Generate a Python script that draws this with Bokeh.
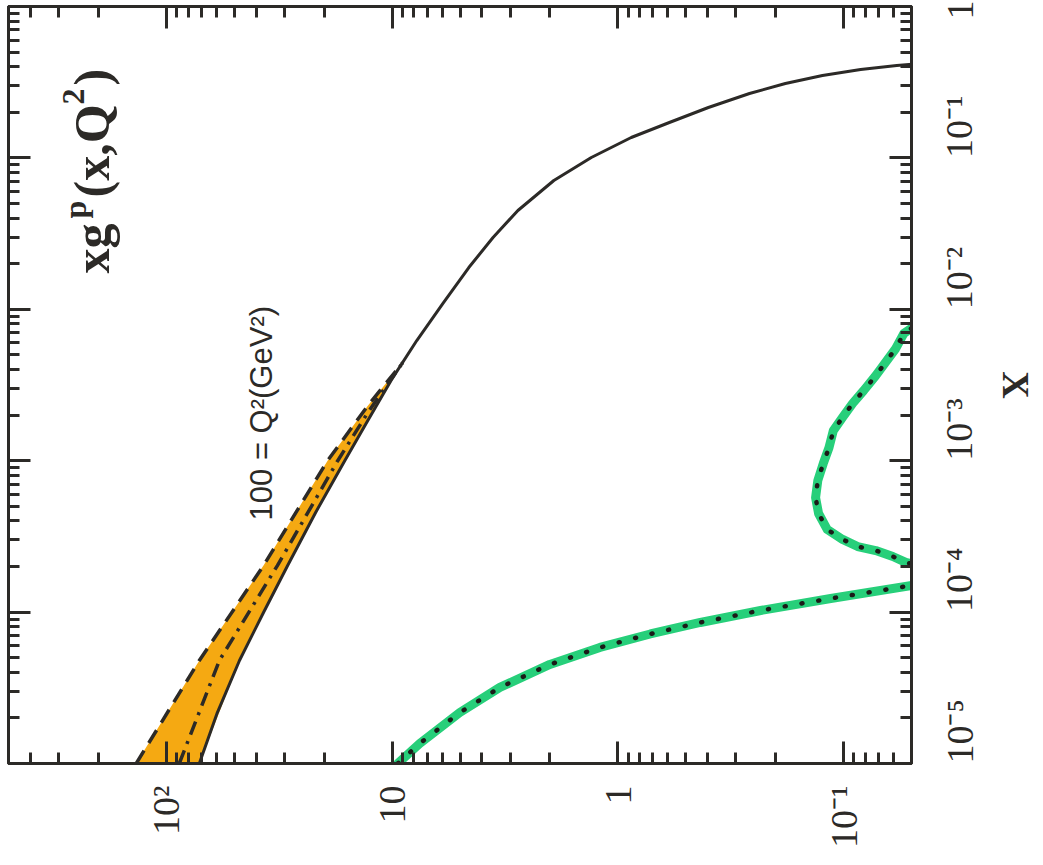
import math
from bokeh.plotting import figure
from bokeh.models import Range1d, LogAxis, FixedTicker, Label, CustomJSTickFormatter
from bokeh.embed import file_html
from bokeh.resources import INLINE

# ---------------- data ----------------
# central gluon curve xg(x, Q^2=100 GeV^2); its low-x part is the lower band edge
gluon_x = [1e-5, 2.17e-5, 4.79e-5, 9.94e-5, 2.03e-4, 4.55e-4, 1.0e-3, 1.84e-3,
           3.39e-3, 6.22e-3, 0.01092, 0.01888, 0.0298, 0.04494, 0.0709, 0.1006,
           0.1364, 0.1713, 0.2152, 0.2663, 0.3100, 0.3501, 0.3836, 0.4077, 0.4267]
gluon_xg = [71.4, 59.4, 47.4, 37.1, 29.0, 21.8, 16.2, 12.8,
            10.1, 7.77, 5.96, 4.57, 3.57, 2.77, 1.92, 1.31,
            0.872, 0.591, 0.397, 0.261, 0.181, 0.124, 0.0840, 0.0581, 0.0390]

# uncertainty band: dashed upper edge, solid lower edge
band_x = [1e-5, 4.79e-5, 2.03e-4, 1.0e-3, 2.31e-3, 4.45e-3]
band_hi = [135.9, 71.4, 37.1, 19.3, 12.8, 8.96]
band_lo = [71.4, 47.4, 29.0, 16.2, 11.7, 8.96]

# dash-dot curve inside the band
mid_x = [1e-5, 4.79e-5, 2.03e-4, 1.0e-3, 2.08e-3, 4.45e-3]
mid_xg = [87.6, 58.2, 32.2, 17.4, 12.8, 8.96]

# green dotted curves
green1_x = [1e-5, 1.356e-5, 2.17e-5, 3.18e-5, 4.51e-5, 5.84e-5, 7.17e-5,
            8.54e-5, 1.025e-4, 1.23e-4, 1.50e-4, 1.60e-4]
green1_xg = [9.44, 7.54, 5.01, 3.33, 2.00, 1.20, 0.718,
             0.431, 0.233, 0.114, 0.0499, 0.0371]

green2_x = [8.69e-3, 6.92e-3, 5.51e-3, 3.65e-3, 2.91e-3, 2.39e-3, 1.93e-3,
            1.58e-3, 1.22e-3, 9.58e-4, 7.40e-4, 5.71e-4, 4.48e-4, 3.51e-4,
            3.02e-4, 2.71e-4, 2.55e-4, 2.33e-4, 2.13e-4, 1.94e-4]
green2_xg = [0.0432, 0.0541, 0.0587, 0.0720, 0.0814, 0.0911, 0.101,
             0.111, 0.116, 0.123, 0.130, 0.133, 0.129, 0.118,
             0.101, 0.0866, 0.0720, 0.0605, 0.0530, 0.0411]

# ticks
xg_ticks = [100, 10, 1, 0.1]
xg_tick_labels = ["10²", "10", "1", "10⁻¹"]
x_ticks = [1e-5, 1e-4, 1e-3, 1e-2, 1e-1, 1]
x_tick_labels = ["10⁻⁵", "10⁻⁴", "10⁻³", "10⁻²", "10⁻¹", "1"]

q2_text = "100 = Q²(GeV²)"
x_label = "X"

# ---------------- styling ----------------
INK = "#2c2a27"
GREEN = "#27cf7a"
ORANGE = "#f5a912"
SERIF = "Liberation Serif"


def minors(lo, hi, e0, e1):
    return [m * 10.0 ** e for e in range(e0, e1) for m in range(2, 10)
            if lo <= m * 10.0 ** e <= hi]


LOOKUP = """
for (let i = 0; i < t.length; i++) {
  if (Math.abs(Math.log10(tick) - Math.log10(t[i])) < 1e-6) { return l[i]; }
}
return '';
"""


def fmt(ticks, labels):
    return CustomJSTickFormatter(args=dict(t=ticks, l=labels), code=LOOKUP)


def blank():
    return CustomJSTickFormatter(code="return '';")


xg_ticker = FixedTicker(ticks=xg_ticks, minor_ticks=minors(0.05, 500, -2, 3))
x_ticker = FixedTicker(ticks=x_ticks, minor_ticks=minors(1e-5, 1, -5, 0))

p = figure(x_axis_type="log", y_axis_type="log",
           x_range=Range1d(500, 0.05), y_range=Range1d(1e-5, 1),
           frame_width=903, frame_height=757,
           min_border_left=8, min_border_top=6,
           min_border_right=128, min_border_bottom=96,
           x_axis_location="below", y_axis_location="right",
           output_backend="svg", toolbar_location=None,
           background_fill_color="white", border_fill_color="white")
p.grid.visible = False
p.outline_line_color = INK
p.outline_line_width = 3


def style_axis(ax, show_labels):
    ax.axis_line_color = INK
    ax.axis_line_width = 3
    ax.major_tick_line_color = INK
    ax.major_tick_line_width = 3
    ax.minor_tick_line_color = INK
    ax.minor_tick_line_width = 3
    ax.major_tick_in = 22
    ax.major_tick_out = 0
    ax.minor_tick_in = 11
    ax.minor_tick_out = 0
    ax.major_label_text_font = SERIF
    ax.major_label_text_font_size = "38px"
    ax.major_label_text_color = INK
    if show_labels:
        ax.major_label_orientation = math.pi / 2
    else:
        ax.formatter = blank()
        ax.major_label_standoff = 0


xa = p.xaxis[0]
xa.ticker = xg_ticker
xa.formatter = fmt(xg_ticks, xg_tick_labels)
style_axis(xa, True)
xa.major_label_standoff = 22

ya = p.yaxis[0]
ya.ticker = x_ticker
ya.formatter = fmt(x_ticks, x_tick_labels)
style_axis(ya, True)
ya.major_label_standoff = 48
ya.axis_label = x_label
ya.axis_label_text_font = SERIF
ya.axis_label_text_font_size = "38px"
ya.axis_label_text_font_style = "bold"
ya.axis_label_text_color = INK
ya.axis_label_standoff = -10

top = LogAxis(ticker=xg_ticker)
style_axis(top, False)
p.add_layout(top, "above")
left = LogAxis(ticker=x_ticker)
style_axis(left, False)
p.add_layout(left, "left")

# band
p.harea(y=band_x, x1=band_lo, x2=band_hi, fill_color=ORANGE, fill_alpha=1.0)
p.line(x=band_hi, y=band_x, line_color=INK, line_width=3.5, line_dash="15 9")
p.line(x=mid_xg, y=mid_x, line_color=INK, line_width=3.5, line_dash="14 7 3 7")
p.line(x=gluon_xg, y=gluon_x, line_color=INK, line_width=3)

# green dotted curves
for gx, gy in ((green1_xg, green1_x), (green2_xg, green2_x)):
    p.line(x=gx, y=gy, line_color=GREEN, line_width=9, line_cap="round",
           line_join="round")
    p.line(x=gx, y=gy, line_color="#1b1b18", line_width=4.5,
           line_dash="1 16", line_cap="round")

# title xg^p(x,Q^2), built from pieces so the superscripts are raised
title_parts = [
    ("xg", 214.4, 0.01724, "50px"),
    ("p", 255.0, 0.03979, "32px"),
    ("(x,Q", 214.4, 0.05477, "50px"),
    ("2", 258.0, 0.2253, "32px"),
    (")", 214.4, 0.3008, "50px"),
]
for txt, tx, ty, fs in title_parts:
    p.add_layout(Label(x=tx, y=ty, text=txt, angle=math.pi / 2,
                       text_align="left", text_baseline="alphabetic",
                       text_font=SERIF, text_font_size=fs,
                       text_font_style="bold", text_color=INK))

p.add_layout(Label(x=37.8, y=4.03e-4, text=q2_text, angle=math.pi / 2,
                   text_align="left", text_baseline="middle",
                   text_font="Liberation Sans", text_font_size="31px",
                   text_color=INK))

open("out.html", "w").write(file_html(p, INLINE))
